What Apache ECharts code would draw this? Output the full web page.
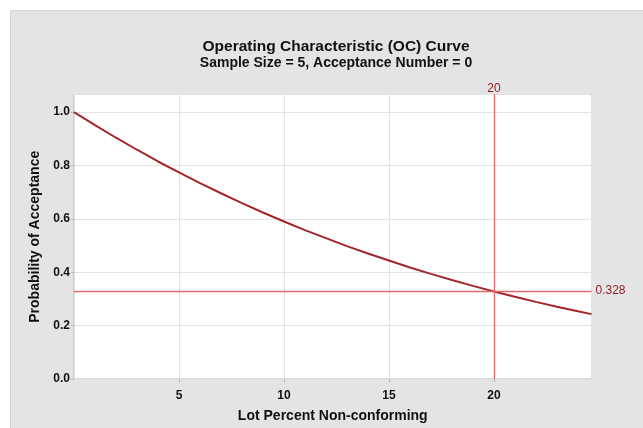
<!DOCTYPE html>
<html>
<head>
<meta charset="utf-8">
<script src="https://cdn.jsdelivr.net/npm/echarts@6/dist/echarts.min.js"></script>
<style>
html,body{margin:0;padding:0;background:#fff;}
#c{width:643px;height:428px;}
</style>
</head>
<body>
<div id="c"></div>
<script>
// Lot percent non-conforming (x) and probability of acceptance (y)
const lotPercent = [0,1,2,3,4,5,6,7,8,9,10,11,12,13,14,15,16,17,18,19,20,21,22,23,24,24.65];
const probAccept = [1.000,0.951,0.904,0.859,0.815,0.774,0.734,0.696,0.659,0.624,0.590,0.558,0.528,0.498,0.470,0.444,0.418,0.394,0.371,0.349,0.328,0.308,0.289,0.271,0.254,0.243];
const refX = [20];
const refY = [0.328];
const xTicks = [5,10,15,20];
const yTicks = ['0.0','0.2','0.4','0.6','0.8','1.0'];

const chart = echarts.init(document.getElementById('c'));
const FONT = 'Liberation Sans';
const REF_LINE = {color: '#e06a6a', type: 'solid', width: 1.3};
chart.setOption({
  animation: false,
  backgroundColor: '#ffffff',
  graphic: [{
    type: 'rect', z: -10, silent: true,
    shape: {x: 10.5, y: 10.5, width: 660, height: 440},
    style: {fill: '#e4e4e4', stroke: '#d4d4d4', lineWidth: 1}
  }],
  title: {
    text: 'Operating Characteristic (OC) Curve',
    subtext: 'Sample Size = 5, Acceptance Number = 0',
    left: 331, top: 34, textAlign: 'center', itemGap: 1,
    textStyle: {fontFamily: FONT, fontWeight: 'bold', fontSize: 15.5, color: '#111'},
    subtextStyle: {fontFamily: FONT, fontWeight: 'bold', fontSize: 14, color: '#111'}
  },
  grid: {left: 74, right: 51.5, top: 94.5, bottom: 48, show: true, backgroundColor: '#fff', borderColor: '#b4b4b4', borderWidth: 1},
  xAxis: {
    type: 'value', min: 0, max: 24.65, interval: 5,
    name: 'Lot Percent Non-conforming', nameLocation: 'middle', nameGap: 30,
    nameTextStyle: {fontFamily: FONT, fontSize: 14, fontWeight: 'bold', color: '#111'},
    axisLine: {show: false},
    axisTick: {show: true, length: 3, lineStyle: {color: '#b4b4b4'}},
    splitLine: {show: true, lineStyle: {color: '#e2e2e2', width: 1}},
    axisLabel: {
      fontFamily: FONT, fontSize: 12, fontWeight: 'bold', color: '#111', margin: 11,
      showMinLabel: false, showMaxLabel: false,
      formatter: v => xTicks.indexOf(v) >= 0 ? String(v) : ''
    }
  },
  yAxis: {
    type: 'value', min: 0, max: 1.066, interval: 0.2,
    name: 'Probability of Acceptance', nameLocation: 'middle', nameGap: 25,
    nameTextStyle: {fontFamily: FONT, fontSize: 14, fontWeight: 'bold', color: '#111'},
    axisLine: {show: false},
    axisTick: {show: true, length: 3, lineStyle: {color: '#b4b4b4'}},
    splitLine: {show: true, lineStyle: {color: '#e2e2e2', width: 1}},
    axisLabel: {
      fontFamily: FONT, fontSize: 12, fontWeight: 'bold', color: '#111', margin: 4,
      showMaxLabel: false,
      formatter: v => yTicks[Math.round(v / 0.2)] || ''
    }
  },
  series: [{
    type: 'line',
    data: lotPercent.map((x, i) => [x, probAccept[i]]),
    showSymbol: false,
    lineStyle: {color: '#a3272a', width: 2},
    markLine: {
      silent: true, symbol: 'none',
      lineStyle: REF_LINE,
      data: [
        {xAxis: refX[0], lineStyle: REF_LINE, label: {show: true, position: 'end', formatter: String(refX[0]), color: '#8e1b1b', fontFamily: FONT, fontSize: 12, distance: 0}},
        {yAxis: refY[0], lineStyle: REF_LINE, label: {show: true, position: 'end', formatter: String(refY[0]), color: '#8e1b1b', fontFamily: FONT, fontSize: 12, distance: 4}}
      ]
    }
  }]
});
</script>
</body>
</html>
